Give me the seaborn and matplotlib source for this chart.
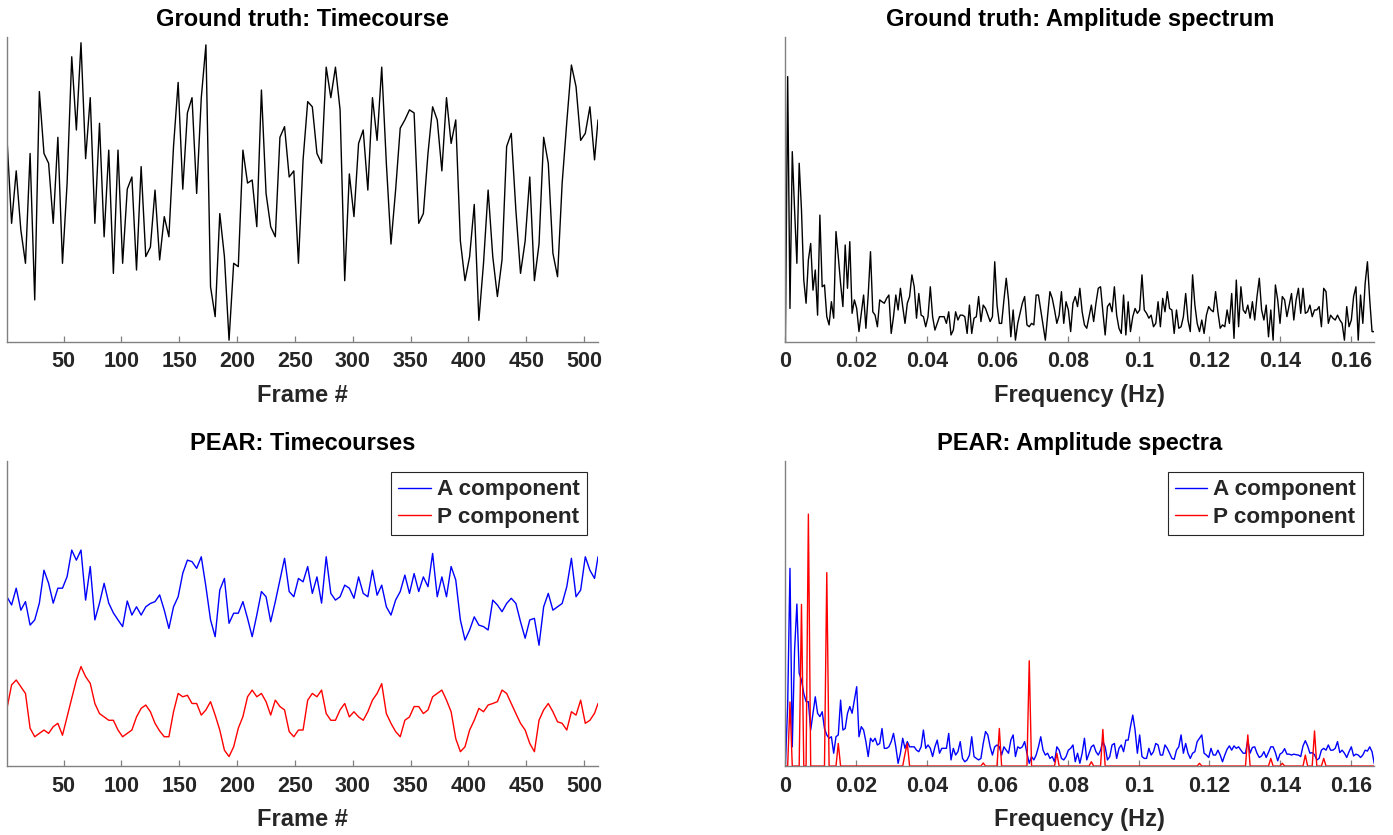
import numpy as np
import matplotlib
matplotlib.use("Agg")
import matplotlib.pyplot as plt
import seaborn as sns

# --- Data (heights in % of each axes' height) ---
# frame numbers for timecourses (sampled every 4 frames) and FFT bins (TR = 3 s, 512 frames)
frames = list(range(1, 512, 4)) + [512]
freqs = np.arange(257) / (512 * 3.0)

gt_timecourse = [
    66.7, 38.8, 56, 36.6, 25.7, 61.7, 13.7, 82, 61.7, 58.5,
    38.8, 67, 25.7, 52, 93.4, 69.4, 98, 60, 80, 38.8,
    71.6, 34.4, 62.8, 22.4, 62.8, 25.7, 50, 54, 23.5, 57.4,
    27.9, 31, 49.7, 26.8, 41, 34.4, 64, 85, 50, 75,
    80, 48.6, 80,
    97.3, 18, 8.2, 42, 27.9, 0.5, 25.7, 24.6, 62.8, 52,
    53, 37.7, 82.5, 48.6, 37.7, 34.4, 67, 70.5, 54, 56,
    25.7, 59.6, 78.7, 77, 61.7, 58.5, 90, 80, 90, 76,
    20, 55, 41, 65, 69.4, 49.7, 80, 66, 90, 58.5,
    32, 49.7,
    70, 72.7, 76, 75, 38.8, 42, 61.7, 77, 72.7, 56,
    80, 65, 72.7, 33, 20, 27.9, 45, 7, 25.7, 49.7,
    27.9, 14.8, 26.8, 64, 68.3, 43, 22.4, 33, 54, 20,
    32, 67, 58.5, 29, 21.3, 52, 72, 90.7, 83.6, 66,
    68.3, 77, 59.6, 72.7,
]

gt_spectrum = [
    0, 86.9, 10.9, 62.3, 43.2, 25.7, 58.5, 43.2, 20.2, 12.6,
    26.8, 32.2, 16.9, 23.5, 8.7, 41.5, 18, 18.6, 8.2, 5.5,
    13.1, 7.7, 36.1, 27.9, 19.1, 11.5, 31.7, 17.5, 32.8, 9.3,
    13.7, 10.9, 3.3, 9.3, 15.3, 4.4, 15.3, 29.5, 9.8, 8.7,
    4.9, 13.7, 13.1, 12.6, 14.2, 15.3, 2.7, 8.2, 15.3, 10.4,
    17.5, 11.5, 6, 12.6, 14.8, 21.9, 18, 7.7, 15.8, 8.7,
    8.2, 4.9, 8.2, 18, 8.2, 3.8, 6, 8.2, 8.2, 8.2,
    6, 9.8, 2.2, 3.8, 9.8, 7.1, 8.7, 8.7, 8.2, 2.7,
    12, 2.7, 7.7, 8.2, 14.8, 6.6, 12, 10.9, 8.7, 6.6,
    8.2, 26.2, 12, 6, 6, 13.7, 20.8, 13.7, 1.6, 10.4,
    0.5, 6, 9.3, 12.6, 14.8, 5.5, 4.9, 6, 5.5, 15.3,
    15.3, 10.4, 5.5, 0.5, 8.7, 16.4, 14.2, 10.4, 6, 8.7,
    16.4, 6, 13.1, 10.4, 3.3, 12.6, 14.8,
    11.5, 17.5, 9.8, 5.5, 4.4, 8.2, 12, 6.6, 12.6, 17.5,
    18, 9.8, 2.2, 11.5, 12.6, 9.8, 18, 8.7, 4.4, 2.7,
    15.3, 2.2, 13.1, 3.3, 8.2, 10.9, 9.3, 10.4, 21.9, 10.4,
    9.3, 7.7, 8.7, 4.9, 6, 13.1, 4.9, 14.2, 9.8, 16.4,
    10.9, 10.4, 2.7, 10.4, 4.4, 4.9, 8.2, 15.8, 7.1, 3.3,
    21.9, 12, 6, 3.3, 7.1, 2.7, 8.7, 11.5, 10.4, 9.8,
    16.4, 9.8, 4.4, 5.5, 4.9, 10.4, 6, 15.8, 1.1, 20.2,
    4.9, 18, 10.4, 9.3, 12, 7.7, 13.1, 7.1, 14.8, 20.8,
    10.4, 7.1, 12, 1.6, 10.4, 0.5, 18.6, 13.7, 6, 14.8,
    13.7, 8.2, 12, 15.8, 7.1, 13.7, 17.5, 9.3, 17.5, 9.3,
    9.8, 12, 8.2, 10.4, 10.4, 11.5, 4.9, 17.5, 16.4, 6,
    8.7, 7.7, 7.1, 8.7, 7.1, 6, 0.5, 11.5, 4.9, 7.1,
    14.8, 18, 0.5, 15.3, 6, 19.1, 26.2, 13.7, 3.3, 3.3,
]

pear_a_timecourse = [
    55.5, 52.8, 58.3, 51.1, 53.9, 46.2, 47.9, 53.4, 64.2, 59.9,
    53.4, 58.3, 58.3, 62.1, 70.8, 67.5, 70.8, 54.4, 65.4, 47.9,
    53.4, 59.9, 53.4, 50.2, 47.9, 45.7, 54.1, 49.5, 52.2, 49.5,
    52.2, 53.3, 53.9, 56.1, 51.1, 45.1, 52.2, 55.5, 63.2, 67.5,
    67, 64.8, 68.6,
    58.8, 47.9, 42.4, 57.7, 61.5, 46.8, 50.1, 50.1, 53.9, 48.4,
    42.4, 49.5, 57.2, 55.5, 47.3, 53.9, 61, 68.1, 57.2, 55.5,
    61.5, 60.4, 65.4, 56.6, 62, 53.4, 68.6, 56.6, 54.4, 55.5,
    59.3, 58.3, 55, 62, 56.6, 55.5, 64.2, 56, 59.3, 52.2,
    49.5, 54.4,
    57.2, 62.6, 56.6, 63.1, 57.2, 62, 58.8, 69.7, 55.5, 62,
    55.5, 65.4, 61, 47.9, 41.3, 44.6, 48.9, 46.2, 45.7, 44.6,
    54.4, 52.8, 50.6, 53.3, 55, 53.3, 47.3, 41.9, 47.9, 48.4,
    39.6, 52.2, 56.6, 51.1, 52.2, 53.3, 58.8, 68.1, 55.5, 57.7,
    68.6, 64.2, 61.5, 68.6,
]

pear_p_timecourse = [
    18.9, 26.6, 28.2, 26, 23.8, 12.4, 9.6, 10.7, 11.8, 10.7,
    12.9, 14, 10.1, 16.2, 22.2, 28.2, 32.6, 29.3, 27.1, 20.5,
    17.2, 16.1, 15, 15, 11.8, 9.6, 10.7, 11.8, 16.1, 18.9,
    20, 17.8, 14, 11.5, 9.6, 9.6, 17.8, 23.8, 22.7, 23.2,
    20.5, 20.5, 16.7,
    18.4, 21.1, 16.7, 11.8, 5.2, 3.1, 6.3, 12.4, 16.2, 22.7,
    24.9, 22.7, 23.8, 21.1, 16.7, 21.6, 19.5, 18.4, 11.3, 9.6,
    11.8, 11.8, 21.6, 23.8, 22.7, 24.9, 17.2, 15, 15, 18.4,
    20.5, 16.1, 17.8, 16.1, 15, 17.8, 21.6, 23.8, 27, 17.2,
    14, 11.3,
    9.6, 15, 16.1, 19.5, 19.5, 17.2, 18.4, 22.7, 23.8, 24.9,
    21.6, 17.8, 9, 4.7, 6.3, 11.8, 15, 18.9, 17.8, 20,
    20.5, 21.1, 24.9, 23.8, 20.5, 17.2, 14, 11.8, 7.4, 4.7,
    15, 18.4, 20.5, 17.8, 14.5, 14, 11.8, 17.8, 16.7, 21.6,
    14, 15, 17.3, 20.5,
]

pear_a_spectrum = [
    0, 20, 64.8, 6.3, 38, 53.1, 30.4, 28.2, 23.8, 21.1,
    21.1, 11.8, 17.3, 22.7, 17.3, 16.2, 17.8, 12.3, 10.2, 9.1,
    9.6, 4.2, 9.6, 10.2, 21.6, 11.8, 12.3, 17.3, 19.5, 17.3,
    21.6, 26, 9.6, 12.9, 11.8, 8, 3.1, 9.1, 8, 9.1,
    6.9, 7.4, 12.3, 5.8, 5.8, 6.3, 8, 10.7, 6.3, 0.9,
    4.2, 9.1, 5.8, 8, 6.3, 6.3, 6.3, 5.2, 4.7, 6.3,
    11.8, 5.8, 6.9, 5.8, 3.1, 6.3, 8.5, 4.2, 5.8, 5.8,
    5.8, 10.7, 2, 5.8, 3.6, 4.7, 8, 2.5, 1.4, 2,
    3.6, 9.6, 3.1, 2.5, 2, 2.5, 7.4, 11.3, 10.2, 6.3,
    3.6, 6.3, 6.9, 6.3, 3.6, 6.3, 5.2, 4.2, 8.5, 10.2,
    3.1, 6.3, 5.8, 6.3, 8, 4.2, 0.9, 3.1, 2, 3.6,
    6.3, 9.6, 5.2, 3.6, 4.2, 2.5, 3.1, 1.4, 6.3, 5.2,
    2.5, 2, 3.1, 5.2, 5.8, 6.9, 1.4, 4.2,
    0.9, 4.2, 9.1, 2, 4.2, 6.3, 6.9, 4.7, 3.6, 5.2,
    8, 6.3, 2, 3.1, 6.9, 7.4, 2.5, 5.8, 6.9, 4.7,
    8.5, 8.5, 12.9, 16.7, 11.8, 4.2, 10.2, 3.1, 2.5, 2.5,
    5.8, 3.6, 4.7, 7.4, 6.9, 3.6, 3.6, 6.9, 5.8, 4.2,
    2.5, 2.2, 5.2, 6.3, 10.2, 4.2, 7.4, 4.2, 2.5, 4.2,
    4.7, 8, 9.1, 10.2, 4.2, 3.6, 2.8, 5.8, 3.6, 3.6,
    5.2, 3.6, 1.4, 3.6, 5.5, 6.6, 5.2, 6.6, 5.8, 6.3,
    5.2, 4.2, 4.2, 8.5, 4.2, 6.1, 6.3, 4.2, 2.8, 3.3,
    4.7, 2.8, 4.5, 6.3, 6.3, 4.4, 1.7, 3.9, 4.4, 5.7,
    3.9, 3.9, 3.6, 3.9, 3.7, 3.6, 3.1, 6.6, 8.3, 6.6,
    4.2, 4.4, 3.7, 2, 2.5, 5.2, 5.8, 5.2, 6.9, 5.2,
    5.2, 5.8, 8, 4.4, 5.2, 4.2, 2.8, 4.7, 6.3, 3.3,
    3.9, 3.6, 2.8, 3.6, 5.2, 4.9, 6.3, 4.7, 0.7,
]

# P component spectrum: flat at zero apart from isolated peaks
p_peak_bins = [2, 7, 10, 18, 23, 52, 53, 86, 93, 106, 118, 133, 138, 180, 201, 211, 216, 226, 230, 234]
p_peak_heights = [21, 53, 82.6, 63.4, 7.4, 4, 7.4, 1, 12.3, 34.5, 4.2, 1.4, 12, 0.9, 10.2, 2.5, 0.9, 3.6, 11.5, 2.5]
pear_p_spectrum = np.zeros(len(freqs))
pear_p_spectrum[p_peak_bins] = p_peak_heights

frame_ticks = [50, 100, 150, 200, 250, 300, 350, 400, 450, 500]
freq_ticks = [0, 0.02, 0.04, 0.06, 0.08, 0.1, 0.12, 0.14, 0.16]
freq_tick_labels = ["0", "0.02", "0.04", "0.06", "0.08", "0.1", "0.12", "0.14", "0.16"]

# --- Style ---
sns.set_theme(style="white")
plt.rcParams["font.family"] = ["Liberation Sans", "DejaVu Sans"]
plt.rcParams["font.weight"] = "bold"
TEXT = "#262626"
AXIS = "#808080"

fig = plt.figure(figsize=(13.93, 8.35), dpi=100)
ax_tl = fig.add_axes([0.0050, 0.5908, 0.4243, 0.3653])
ax_tr = fig.add_axes([0.5638, 0.5908, 0.4228, 0.3653])
ax_bl = fig.add_axes([0.0050, 0.0826, 0.4243, 0.3653])
ax_br = fig.add_axes([0.5638, 0.0826, 0.4228, 0.3653])


def style_axes(ax, xlim, ticks, labels, xlabel, title):
    ax.set_xlim(xlim)
    ax.set_ylim(0, 100)
    ax.set_xticks(ticks)
    ax.set_xticklabels(labels)
    ax.set_yticks([])
    ax.set_ylabel("")
    for s in ["top", "right"]:
        ax.spines[s].set_visible(False)
    for s in ["left", "bottom"]:
        ax.spines[s].set_color(AXIS)
        ax.spines[s].set_linewidth(1.0)
    ax.tick_params(axis="x", direction="in", length=4, width=0.9, color=AXIS,
                   labelsize=15.5, labelcolor=TEXT, pad=7, bottom=True)
    ax.set_xlabel(xlabel, fontsize=17, fontweight="bold", color=TEXT, labelpad=8)
    ax.set_title(title, fontsize=17, fontweight="bold", color="black", pad=8)


def style_legend(ax):
    leg = ax.legend(loc="upper right", frameon=True, fancybox=False, framealpha=1,
                    edgecolor=TEXT, fontsize=16.2, handlelength=1.45, handletextpad=0.25,
                    borderpad=0.32, labelspacing=0.3, borderaxespad=0.5)
    leg.get_frame().set_linewidth(0.8)
    for t in leg.get_texts():
        t.set_fontweight("bold")


xlim_frames = (1, 512)
xlim_freq = (0, freqs[-1])

# Chart 1: ground truth timecourse
sns.lineplot(x=frames, y=gt_timecourse, color="black", linewidth=1.0, ax=ax_tl)
style_axes(ax_tl, xlim_frames, frame_ticks, [str(t) for t in frame_ticks],
           "Frame #", "Ground truth: Timecourse")

# Chart 2: ground truth amplitude spectrum
sns.lineplot(x=freqs, y=gt_spectrum, color="black", linewidth=1.0, ax=ax_tr)
style_axes(ax_tr, xlim_freq, freq_ticks, freq_tick_labels,
           "Frequency (Hz)", "Ground truth: Amplitude spectrum")

# Chart 3: PEAR timecourses
sns.lineplot(x=frames, y=pear_a_timecourse, color="blue", linewidth=1.0, ax=ax_bl, label="A component")
sns.lineplot(x=frames, y=pear_p_timecourse, color="red", linewidth=1.0, ax=ax_bl, label="P component")
style_axes(ax_bl, xlim_frames, frame_ticks, [str(t) for t in frame_ticks],
           "Frame #", "PEAR: Timecourses")
style_legend(ax_bl)

# Chart 4: PEAR amplitude spectra
sns.lineplot(x=freqs, y=pear_a_spectrum, color="blue", linewidth=1.0, ax=ax_br, label="A component")
sns.lineplot(x=freqs, y=pear_p_spectrum, color="red", linewidth=1.0, ax=ax_br, label="P component")
style_axes(ax_br, xlim_freq, freq_ticks, freq_tick_labels,
           "Frequency (Hz)", "PEAR: Amplitude spectra")
style_legend(ax_br)

fig.savefig("out.png", dpi=100)
plt.close(fig)
